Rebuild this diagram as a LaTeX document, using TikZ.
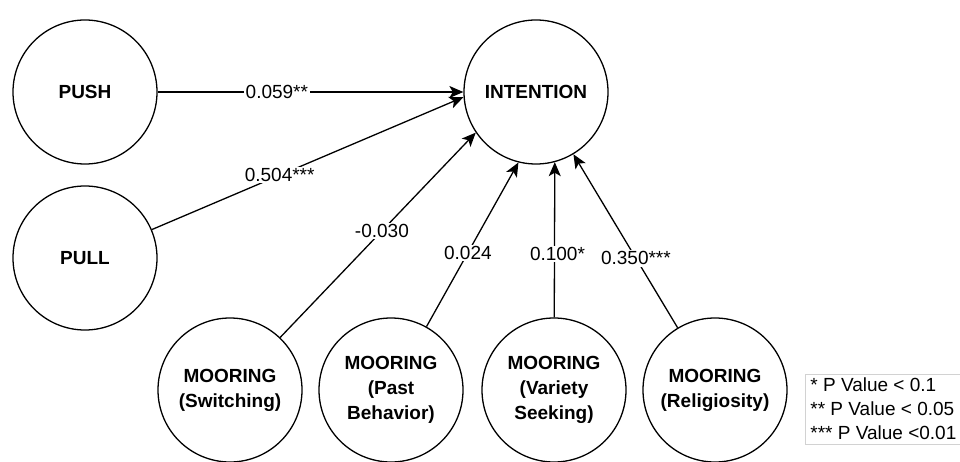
\documentclass[tikz,border=0pt]{standalone}
\usepackage{fontspec}
\setmainfont{Liberation Sans}
\usetikzlibrary{arrows.meta}
\begin{document}
\begin{tikzpicture}[x=1pt, y=1pt,
		construct/.style={circle, draw, line width=1.3pt, minimum size=144pt, inner sep=0pt, align=center, font=\bfseries\fontsize{19}{25}\selectfont},
		path/.style={-{Stealth[length=14pt, width=12pt, inset=3.5pt]}, line width=1.3pt},
		coef/.style={fill=white, inner sep=1.5pt, font=\fontsize{19}{22}\selectfont},
		legendbox/.style={draw=gray!35, line width=0.8pt, align=left, inner xsep=5pt, inner ysep=4pt, font=\fontsize{19}{24}\selectfont}]
		\useasboundingbox (0,0) rectangle (960,461);
		% constructs
		\node[construct] (push) at (85,369) {PUSH};
		\node[construct] (pull) at (85,203) {PULL};
		\node[construct] (intention) at (536,369) {INTENTION};
		\node[construct] (switching) at (230,71) {MOORING\\(Switching)};
		\node[construct] (past) at (391,71) {MOORING\\(Past\\Behavior)};
		\node[construct] (variety) at (554,71) {MOORING\\(Variety\\Seeking)};
		\node[construct] (religiosity) at (715,71) {MOORING\\(Religiosity)};
		% paths
		\draw[path] (push) -- node[coef, pos=0.39] {0.059**} (intention);
		\draw[path] (pull) -- node[coef, pos=0.41] {0.504***} (intention.184);
		\draw[path] (switching) -- node[coef, pos=0.52] {-0.030} (intention.214);
		\draw[path] (past) -- node[coef, pos=0.45] {0.024} (intention.256);
		\draw[path] (variety) -- node[coef, pos=0.41, xshift=3pt] {0.100*} (intention.285);
		\draw[path] (religiosity) -- node[coef, pos=0.40] {0.350***} (intention.301);
		% legend
		\node[legendbox, anchor=west] (legend) at (805,52) {* P Value < 0.1\\** P Value < 0.05\\*** P Value <0.01};
	\end{tikzpicture}
\end{document}
